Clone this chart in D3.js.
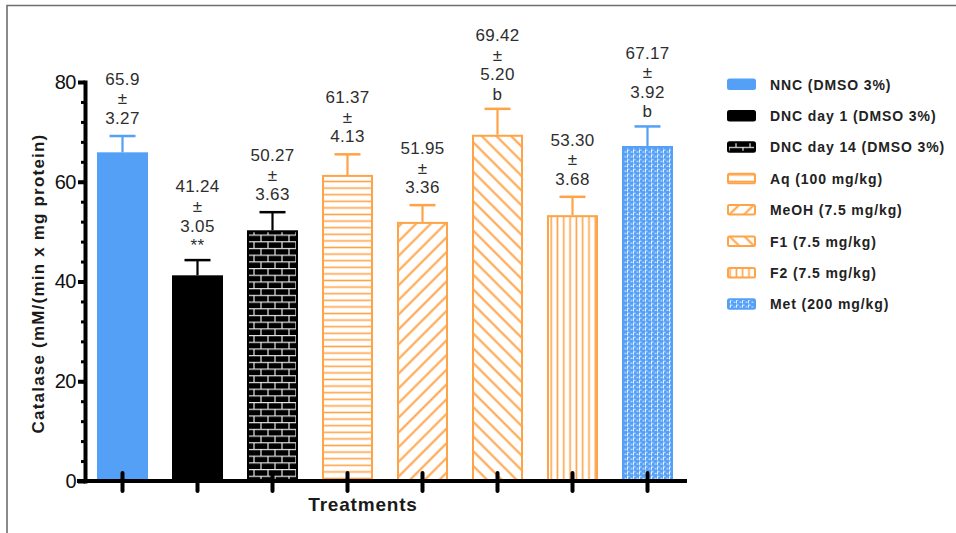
<!DOCTYPE html>
<html>
<head>
<meta charset="utf-8">
<script src="https://cdn.jsdelivr.net/npm/d3@7/dist/d3.min.js"></script>
<style>
  html, body { margin: 0; padding: 0; background: #fff; }
  svg { display: block; font-family: Arial, "Liberation Sans", sans-serif; }
</style>
</head>
<body>
<svg id="chart" width="956" height="533"></svg>
<script>
// Catalase activity per treatment group (mean ± SEM)
const categories = [
  "NNC (DMSO 3%)",
  "DNC day 1 (DMSO 3%)",
  "DNC day 14 (DMSO 3%)",
  "Aq (100 mg/kg)",
  "MeOH (7.5 mg/kg)",
  "F1 (7.5 mg/kg)",
  "F2 (7.5 mg/kg)",
  "Met (200 mg/kg)"
];
const means = [65.9, 41.24, 50.27, 61.37, 51.95, 69.42, 53.30, 67.17];
const sems = [3.27, 3.05, 3.63, 4.13, 3.36, 5.20, 3.68, 3.92];
const meanDecimals = [1, 2, 2, 2, 2, 2, 2, 2];
const significance = ["", "**", "", "", "", "b", "", "b"];
const yTicks = [0, 20, 40, 60, 80];

const BLUE = "#55A0F7";
const ORANGE = "#FFA347";

const svg = d3.select("#chart");
const defs = svg.append("defs");

// ---- fill patterns -------------------------------------------------------
// brick
const brick = defs.append("pattern").attr("id", "p-brick")
  .attr("patternUnits", "userSpaceOnUse").attr("width", 14).attr("height", 13.4);
brick.append("rect").attr("width", 14).attr("height", 13.4).attr("fill", "#000");
brick.append("path")
  .attr("d", "M0,0.6H14M0,7.3H14M2,0.6V7.3M9,7.3V13.4")
  .attr("stroke", "#e6e6e6").attr("stroke-width", 1.2).attr("fill", "none");

// horizontal lines
const hz = defs.append("pattern").attr("id", "p-horiz")
  .attr("patternUnits", "userSpaceOnUse").attr("width", 10).attr("height", 6.6);
hz.append("rect").attr("width", 10).attr("height", 6.6).attr("fill", "#fff");
hz.append("line").attr("x1", 0).attr("x2", 10).attr("y1", 3.3).attr("y2", 3.3)
  .attr("stroke", ORANGE).attr("stroke-width", 1.6);

// diagonal "/" and "\"
function diag(id, angle) {
  const p = defs.append("pattern").attr("id", id)
    .attr("patternUnits", "userSpaceOnUse").attr("width", 10.4).attr("height", 10.4)
    .attr("patternTransform", `rotate(${angle})`);
  p.append("rect").attr("width", 10.4).attr("height", 10.4).attr("fill", "#fff");
  p.append("line").attr("x1", 5.2).attr("x2", 5.2).attr("y1", 0).attr("y2", 10.4)
    .attr("stroke", ORANGE).attr("stroke-width", 2);
}
diag("p-fwd", 45);
diag("p-back", -45);

// vertical lines
const vt = defs.append("pattern").attr("id", "p-vert")
  .attr("patternUnits", "userSpaceOnUse").attr("width", 6.3).attr("height", 10);
vt.append("rect").attr("width", 6.3).attr("height", 10).attr("fill", "#fff");
vt.append("line").attr("x1", 3.1).attr("x2", 3.1).attr("y1", 0).attr("y2", 10)
  .attr("stroke", ORANGE).attr("stroke-width", 1.6);

// speckled blue
const sp = defs.append("pattern").attr("id", "p-speck")
  .attr("patternUnits", "userSpaceOnUse").attr("width", 6).attr("height", 4.8);
sp.append("rect").attr("width", 6).attr("height", 4.8).attr("fill", BLUE);
sp.append("path").attr("d", "M0.5,3.2H2.5M3.5,4.3V1.3H5.5")
  .attr("stroke", "#eaf3ff").attr("stroke-width", 1).attr("fill", "none");

const styles = [
  { fill: BLUE, stroke: BLUE },
  { fill: "#000", stroke: "#000" },
  { fill: "url(#p-brick)", stroke: "#000" },
  { fill: "url(#p-horiz)", stroke: ORANGE },
  { fill: "url(#p-fwd)", stroke: ORANGE },
  { fill: "url(#p-back)", stroke: ORANGE },
  { fill: "url(#p-vert)", stroke: ORANGE },
  { fill: "url(#p-speck)", stroke: BLUE }
];

// ---- frame ---------------------------------------------------------------
svg.append("path").attr("d", "M7,533V5.5H956")
  .attr("fill", "none").attr("stroke", "#6e6e6e").attr("stroke-width", 1.6);

// ---- scales --------------------------------------------------------------
const x = d3.scaleBand().domain(categories).range([85, 685])
  .paddingInner(0.32).paddingOuter(0.16);
const y = d3.scaleLinear().domain([0, 80]).range([481, 82]);

// ---- bars ----------------------------------------------------------------
const bars = svg.append("g");
categories.forEach((c, i) => {
  const s = styles[i];
  const bx = x(c), bw = x.bandwidth();
  const sw = (i === 0 || i === 1) ? 0 : 2;
  bars.append("rect")
    .attr("x", bx + sw / 2).attr("y", y(means[i]) + sw / 2)
    .attr("width", bw - sw).attr("height", y(0) - y(means[i]) - sw / 2)
    .attr("fill", s.fill)
    .attr("stroke", sw ? s.stroke : "none").attr("stroke-width", sw);

  // upper error bar
  const cx = bx + bw / 2;
  const top = y(means[i] + sems[i]);
  bars.append("line").attr("x1", cx).attr("x2", cx)
    .attr("y1", y(means[i])).attr("y2", top)
    .attr("stroke", s.stroke).attr("stroke-width", 2.2);
  bars.append("line").attr("x1", cx - 13).attr("x2", cx + 13)
    .attr("y1", top).attr("y2", top)
    .attr("stroke", s.stroke).attr("stroke-width", 2.5);

  // value label
  const lines = [means[i].toFixed(meanDecimals[i]), "±", sems[i].toFixed(2)];
  if (significance[i]) lines.push(significance[i]);
  const step = 19.6;
  const lastBase = top - (significance[i] ? 9 : 12);
  lines.forEach((t, k) => {
    svg.append("text")
      .attr("x", cx)
      .attr("y", lastBase - (lines.length - 1 - k) * step)
      .attr("text-anchor", "middle")
      .attr("font-size", 17).attr("letter-spacing", 0.3)
      .attr("fill", "#2e2e2e")
      .text(t);
  });
});

// ---- axes ----------------------------------------------------------------
const yMinor = svg.append("g").attr("transform", "translate(85,0)")
  .call(d3.axisLeft(y).tickValues(d3.range(0, 81, 4)).tickSize(4).tickSizeOuter(0).tickFormat(""));
yMinor.select(".domain").remove();
yMinor.selectAll(".tick line").attr("stroke", "#000").attr("stroke-width", 3);

const yMajor = svg.append("g").attr("transform", "translate(85,0)")
  .call(d3.axisLeft(y).tickValues(yTicks).tickSize(7).tickSizeOuter(0).tickPadding(2));
yMajor.select(".domain").attr("stroke", "#000").attr("stroke-width", 4)
  .attr("stroke-linecap", "square");
yMajor.selectAll(".tick line").attr("stroke", "#000").attr("stroke-width", 4);
yMajor.selectAll(".tick text").attr("font-size", 20).attr("fill", "#111")
  .attr("font-family", "Arial, 'Liberation Sans', sans-serif").attr("letter-spacing", -0.5);

const xAxis = svg.append("g").attr("transform", `translate(0,${y(0)})`)
  .call(d3.axisBottom(x).tickSize(10).tickSizeOuter(0).tickFormat(""));
xAxis.select(".domain").remove();
xAxis.selectAll(".tick line").attr("y1", -8).attr("y2", 10)
  .attr("stroke", "#000").attr("stroke-width", 4).attr("stroke-linecap", "round");
xAxis.append("line")
  .attr("x1", x.range()[0] - 8).attr("x2", x.range()[1] + 2)
  .attr("y1", 0).attr("y2", 0)
  .attr("stroke", "#000").attr("stroke-width", 4);

// axis titles
svg.append("text")
  .attr("transform", `translate(44,${(y(0) + y(80)) / 2 + 2}) rotate(-90)`)
  .attr("text-anchor", "middle")
  .attr("font-size", 17).attr("font-weight", "bold").attr("letter-spacing", 1.2)
  .attr("fill", "#1a1a1a")
  .text("Catalase (mM/(min x mg protein)");

svg.append("text")
  .attr("x", 363).attr("y", 511)
  .attr("text-anchor", "middle")
  .attr("font-size", 19).attr("font-weight", "bold").attr("letter-spacing", 0.8)
  .attr("fill", "#1a1a1a")
  .text("Treatments");

// ---- legend --------------------------------------------------------------
const legend = svg.append("g").attr("transform", "translate(727,84)");
categories.forEach((c, i) => {
  const g = legend.append("g").attr("transform", `translate(0,${i * 31.4})`);
  g.append("rect").attr("x", 1).attr("y", -4.5).attr("width", 27).attr("height", 9.5)
    .attr("rx", 1.5)
    .attr("fill", styles[i].fill)
    .attr("stroke", styles[i].stroke).attr("stroke-width", 2);
  g.append("text").attr("x", 43).attr("y", 5.5)
    .attr("font-size", 14).attr("font-weight", "bold").attr("letter-spacing", 0.9)
    .attr("fill", "#222")
    .text(c);
});
</script>
</body>
</html>
